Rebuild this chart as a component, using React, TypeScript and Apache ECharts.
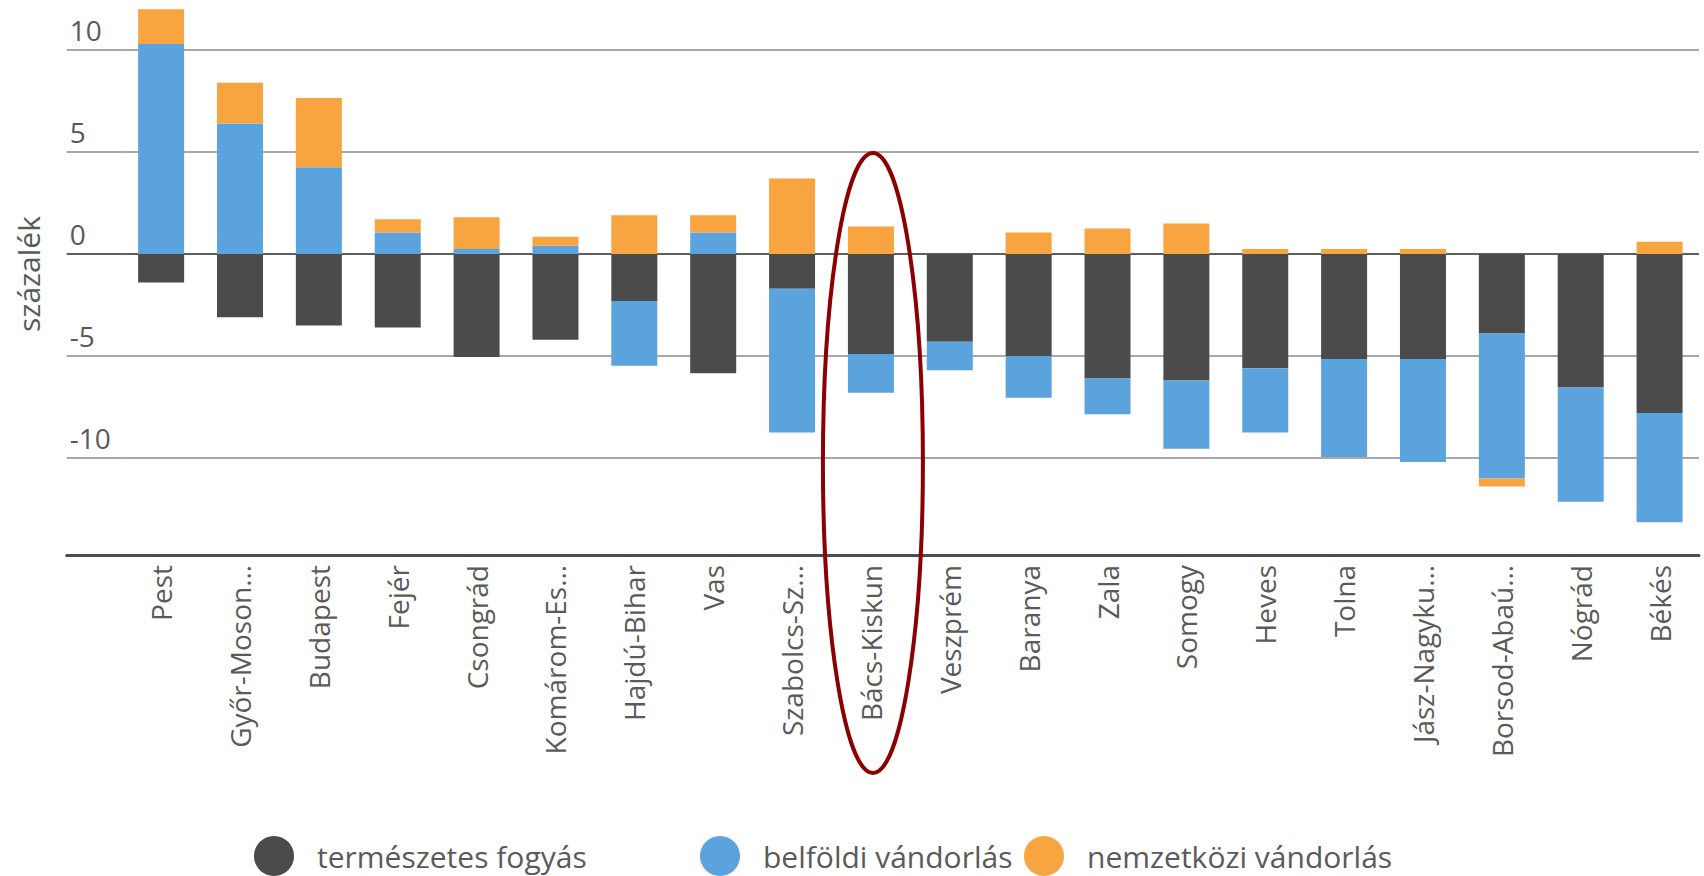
import React, { useEffect, useRef } from "react";
import * as echarts from "echarts";

const categories = [
  "Pest", "Győr-Moson…", "Budapest", "Fejér", "Csongrád", "Komárom-Es…",
  "Hajdú-Bihar", "Vas", "Szabolcs-Sz…", "Bács-Kiskun", "Veszprém", "Baranya",
  "Zala", "Somogy", "Heves", "Tolna", "Jász-Nagyku…", "Borsod-Abaú…", "Nógrád", "Békés",
];
const seriesNames = ["természetes fogyás", "belföldi vándorlás", "nemzetközi vándorlás"];
const naturalDecrease = [-1.4, -3.1, -3.5, -3.6, -5.05, -4.2, -2.3, -5.85, -1.7, -4.9, -4.3, -5.0, -6.1, -6.2, -5.6, -5.15, -5.15, -3.9, -6.55, -7.8];
const domesticMigration = [10.3, 6.4, 4.25, 1.05, 0.25, 0.4, -3.18, 1.05, -7.05, -1.9, -1.4, -2.05, -1.75, -3.35, -3.15, -4.8, -5.05, -7.1, -5.6, -5.35];
const internationalMigration = [1.7, 2.0, 3.4, 0.65, 1.55, 0.45, 1.9, 0.85, 3.7, 1.35, 0, 1.05, 1.25, 1.5, 0.25, 0.25, 0.25, -0.4, 0, 0.6];
const yTickValues = [-15, -10, -5, 0, 5, 10, 15];
const highlightIndex = 9;

const FONT = "'Open Sans', 'DejaVu Sans', sans-serif";
const TEXT = "#5a5a5a";
const COLORS = ["#4b4b4b", "#5ba3dc", "#f8a440"];
const GRID_LINE = "#a8a8a8";
const ZERO_LINE = "#5e5e5e";

export default function App() {
  const ref = useRef<HTMLDivElement>(null);
  useEffect(() => {
    document.body.style.margin = "0";
    if (!ref.current) return;
    const chart = echarts.init(ref.current, undefined, { renderer: "svg" });

    const splitColors = yTickValues.map((v, i) =>
      i === 0 ? "rgba(0,0,0,0)" : v === 0 ? ZERO_LINE : GRID_LINE
    );
    const yMin = yTickValues[0];
    const yMax = yTickValues[yTickValues.length - 1];
    const yStep = yTickValues[1] - yTickValues[0];
    const gridV = { top: -52, bottom: 316, outerBoundsMode: "none" };
    const bottomLine = { show: true, onZero: false, lineStyle: { color: "#4d4d4d", width: 3 } };

    const mk = (name: string, data: number[], color: string) => ({
      name,
      type: "bar",
      stack: "total",
      barWidth: 46,
      xAxisIndex: 0,
      yAxisIndex: 0,
      itemStyle: { color },
      data,
    });
    const legendBase = {
      icon: "circle",
      itemWidth: 40,
      itemHeight: 40,
      top: 831,
      selectedMode: false,
      textStyle: { fontSize: 30, color: TEXT, fontFamily: FONT, padding: [0, 0, 0, 18] },
    };
    chart.setOption({
      animation: false,
      backgroundColor: "#ffffff",
      grid: [
        { left: 121.7, right: 5, ...gridV },
        { left: 66.7, width: 55, ...gridV },
      ],
      xAxis: [
        {
          type: "category",
          gridIndex: 0,
          data: categories,
          offset: -5,
          axisLine: bottomLine,
          axisTick: { show: false },
          splitLine: { show: false },
          axisLabel: {
            interval: 0,
            rotate: 90,
            margin: 10,
            fontSize: 28,
            color: TEXT,
            fontFamily: FONT,
          },
        },
        {
          type: "category",
          gridIndex: 1,
          data: [""],
          offset: -5,
          axisLine: bottomLine,
          axisTick: { show: false },
          axisLabel: { show: false },
          splitLine: { show: false },
        },
      ],
      yAxis: [
        {
          type: "value",
          gridIndex: 0,
          min: yMin,
          max: yMax,
          interval: yStep,
          axisLine: { show: false },
          axisTick: { show: false },
          axisLabel: { show: false },
          splitLine: { show: true, lineStyle: { color: splitColors, width: 2 } },
        },
        {
          type: "value",
          gridIndex: 1,
          min: yMin,
          max: yMax,
          interval: yStep,
          axisLine: { show: false },
          axisTick: { show: false },
          axisLabel: {
            inside: true,
            margin: 3,
            verticalAlign: "bottom",
            padding: [0, 0, 6, 0],
            showMinLabel: false,
            showMaxLabel: false,
            fontSize: 28,
            color: TEXT,
            fontFamily: FONT,
          },
          splitLine: { show: true, lineStyle: { color: splitColors, width: 2 } },
        },
      ],
      legend: [
        { ...legendBase, left: 249, data: [seriesNames[0]] },
        { ...legendBase, left: 695, data: [seriesNames[1]] },
        { ...legendBase, left: 1019, data: [seriesNames[2]] },
      ],
      series: [
        mk(seriesNames[0], naturalDecrease, COLORS[0]),
        mk(seriesNames[1], domesticMigration, COLORS[1]),
        mk(seriesNames[2], internationalMigration, COLORS[2]),
      ],
    });
    const p = chart.convertToPixel({ xAxisIndex: 0, yAxisIndex: 0 }, [highlightIndex, 0]) as number[];
    chart.setOption({
      graphic: [
        {
          type: "text",
          x: 28,
          y: 274,
          rotation: Math.PI / 2,
          style: {
            text: "százalék",
            fontSize: 30,
            fontFamily: FONT,
            fill: TEXT,
            align: "center",
            verticalAlign: "middle",
          },
        },
        {
          type: "ellipse",
          z: 100,
          shape: { cx: p[0] + 2, cy: 463, rx: 50, ry: 310 },
          style: { fill: "none", stroke: "#8B0000", lineWidth: 4 },
        },
      ],
    });
    return () => chart.dispose();
  }, []);
  return <div ref={ref} style={{ width: 1704, height: 876 }} />;
}
